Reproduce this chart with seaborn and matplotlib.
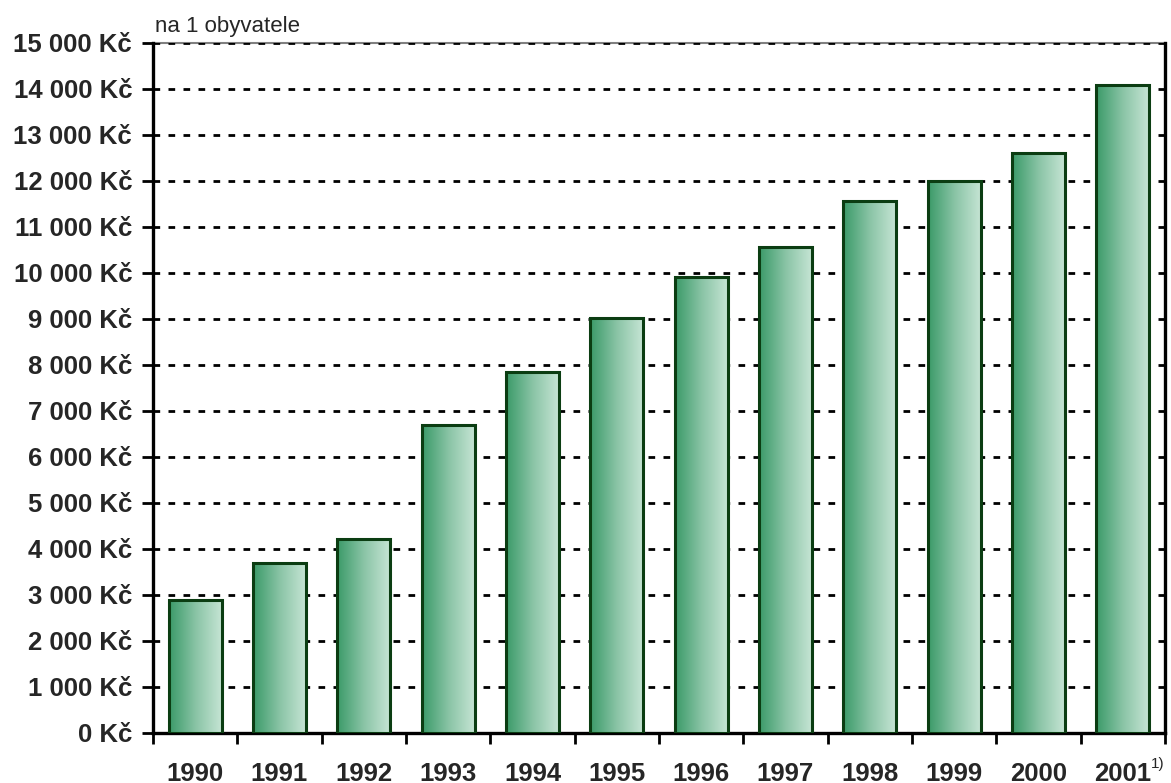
import numpy as np
import pandas as pd
import matplotlib
matplotlib.use("Agg")
import matplotlib.pyplot as plt
from matplotlib.colors import LinearSegmentedColormap
import seaborn as sns

years = ["1990", "1991", "1992", "1993", "1994", "1995", "1996", "1997", "1998", "1999", "2000", "2001"]
values = [2890, 3700, 4220, 6690, 7840, 9030, 9920, 10570, 11570, 12000, 12610, 14090]
ytick_values = list(range(0, 15001, 1000))
ytick_labels = [("%d %03d Kč" % (v // 1000, v % 1000)) if v >= 1000 else "0 Kč" for v in ytick_values]
subtitle = "na 1 obyvatele"
footnote = "1)"

sns.set_theme(style="white")
plt.rcParams['font.family'] = ['Liberation Sans', 'DejaVu Sans']

df = pd.DataFrame({"year": years, "value": values})

fig = plt.figure(figsize=(11.71, 7.83), dpi=100)
ax = fig.add_axes([153 / 1171, 50 / 783, 1012 / 1171, 690 / 783])

sns.barplot(data=df, x="year", y="value", ax=ax, width=0.63, color="#3a9a68",
            edgecolor="#0b3d12", linewidth=2.2, zorder=3)

cmap = LinearSegmentedColormap.from_list("g", ["#3a9a68", "#8ac4a6", "#c8e6d6"])
grad = np.linspace(0, 1, 256).reshape(1, -1)
for p in ax.patches:
    x0, y0 = p.get_x(), p.get_y()
    w, h = p.get_width(), p.get_height()
    im = ax.imshow(grad, cmap=cmap, extent=[x0, x0 + w, y0, y0 + h], aspect="auto",
                   zorder=2.9, interpolation="bilinear")
    im.set_clip_path(p)
    p.set_facecolor("none")

ax.set_xlim(-0.5, len(years) - 0.5)
ax.set_ylim(0, 15000)

for v in ytick_values[1:]:
    ax.axhline(v, color="black", linewidth=2.0, linestyle=(0, (2.4, 3.0)), zorder=1)

ax.set_yticks(ytick_values)
ax.set_yticklabels(ytick_labels, fontsize=18.5, fontweight="bold")
ax.set_xticks(range(len(years)))
ax.set_xticklabels(years, fontsize=18.5, fontweight="bold")
ax.set_xticks(np.arange(-0.5, len(years), 1.0), minor=True)
ax.tick_params(axis="x", which="major", length=0, pad=21)
ax.tick_params(axis="x", which="minor", length=8, width=2, color="black", direction="out", bottom=True)
ax.tick_params(axis="y", length=8, width=2, color="black", direction="out", left=True, pad=7)
ax.set_xlabel("")
ax.set_ylabel("")

for s in ["left", "bottom", "right"]:
    ax.spines[s].set_color("black")
    ax.spines[s].set_linewidth(2.4)
ax.spines["top"].set_color("#808080")
ax.spines["top"].set_linewidth(1.5)
ax.spines["top"].set_zorder(0.5)

ax.text(0.002, 1.009, subtitle, transform=ax.transAxes, fontsize=16, ha="left", va="bottom")
ax.annotate(footnote, xy=(11, 0), xycoords="data", xytext=(20, -17), textcoords="offset points",
            fontsize=11, ha="left", va="top", annotation_clip=False)

fig.savefig("out.png", dpi=100)
